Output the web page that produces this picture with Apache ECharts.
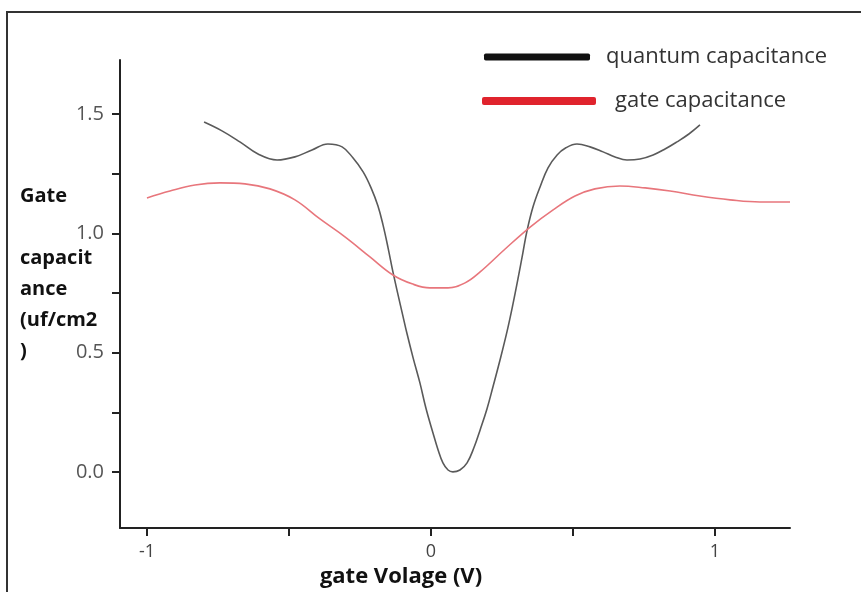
<!DOCTYPE html>
<html>
<head>
<meta charset="utf-8">
<script src="https://cdn.jsdelivr.net/npm/echarts@6/dist/echarts.min.js"></script>
<style>
  html, body { margin: 0; padding: 0; background: #fff; }
  #chart { width: 861px; height: 592px; }
</style>
</head>
<body>
<div id="chart"></div>
<script>
// quantum capacitance (black curve)
const quantumX = [-0.799, -0.736, -0.673, -0.609, -0.542, -0.479, -0.419, -0.363, -0.313, -0.275, -0.239, -0.211, -0.187, -0.169, -0.151, -0.134, -0.116, -0.099, -0.085, -0.063, -0.039, -0.018, 0.007, 0.025, 0.042, 0.060, 0.077, 0.102, 0.127, 0.151, 0.173, 0.197, 0.218, 0.243, 0.268, 0.288, 0.308, 0.323, 0.338, 0.359, 0.384, 0.412, 0.444, 0.475, 0.514, 0.560, 0.606, 0.648, 0.690, 0.736, 0.782, 0.824, 0.866, 0.908, 0.947]
const quantumY = [1.466, 1.429, 1.383, 1.332, 1.307, 1.320, 1.349, 1.374, 1.362, 1.316, 1.257, 1.190, 1.115, 1.035, 0.938, 0.838, 0.742, 0.654, 0.582, 0.478, 0.373, 0.268, 0.163, 0.092, 0.038, 0.008, 0.0, 0.008, 0.038, 0.101, 0.176, 0.264, 0.356, 0.469, 0.590, 0.700, 0.820, 0.915, 1.010, 1.110, 1.194, 1.274, 1.328, 1.358, 1.374, 1.362, 1.341, 1.320, 1.307, 1.311, 1.328, 1.353, 1.383, 1.416, 1.454]
// gate capacitance (red curve)
const gateX = [-1.0, -0.919, -0.831, -0.743, -0.655, -0.567, -0.479, -0.391, -0.303, -0.215, -0.134, -0.067, -0.004, 0.060, 0.120, 0.173, 0.261, 0.349, 0.430, 0.507, 0.577, 0.665, 0.754, 0.842, 0.947, 1.053, 1.158, 1.264]
const gateY = [1.148, 1.177, 1.202, 1.211, 1.207, 1.186, 1.140, 1.060, 0.985, 0.901, 0.825, 0.788, 0.771, 0.771, 0.792, 0.838, 0.934, 1.026, 1.098, 1.156, 1.186, 1.198, 1.190, 1.177, 1.156, 1.140, 1.131, 1.131]
// ticks
const xTicks = [-1, -0.5, 0, 0.5, 1]
const xLabels = [-1, 0, 1]
const yTicks = [0, 0.25, 0.5, 0.75, 1, 1.25, 1.5]
const yLabels = [0, 0.5, 1, 1.5]
const yTitle = 'Gate\n\ncapacit\nance\n(uf/cm2\n)'

const zip = (xs, ys) => xs.map((x, i) => [x, ys[i]])

const chart = echarts.init(document.getElementById('chart'))
chart.setOption({
    animation: false,
    grid: { left: 120, top: 60, right: 71, bottom: 64, outerBoundsMode: 'none' },
    graphic: [
        { type: 'line', shape: { x1: 6, y1: 12, x2: 861, y2: 12 }, style: { stroke: '#333', lineWidth: 2 } },
        { type: 'line', shape: { x1: 7, y1: 12, x2: 7, y2: 592 }, style: { stroke: '#333', lineWidth: 2 } },
        // y axis title, left-aligned block like the original
        {
            type: 'text', left: 20, top: 181,
            style: { text: yTitle, font: 'bold 20px "Open Sans"', fill: '#111', lineHeight: 31 }
        }
    ],
    legend: [
        {
            left: 484, top: 46, padding: 0,
            icon: 'roundRect', itemWidth: 106, itemHeight: 7,
            textStyle: { fontFamily: 'Open Sans', fontSize: 22, color: '#333', padding: [0, 0, 0, 11] },
            data: [{ name: 'quantum capacitance', itemStyle: { color: '#111' } }]
        },
        {
            left: 482, top: 90, padding: 0,
            icon: 'roundRect', itemWidth: 114, itemHeight: 8,
            textStyle: { fontFamily: 'Open Sans', fontSize: 22, color: '#333', padding: [0, 0, 0, 14] },
            data: [{ name: 'gate capacitance', itemStyle: { color: '#e0232d' } }]
        }
    ],
    xAxis: {
        type: 'value',
        min: -1.095,
        max: 1.264,
        name: 'gate Volage (V)',
        nameLocation: 'middle',
        nameGap: 34,
        nameTextStyle: { fontFamily: 'Open Sans', fontSize: 22, fontWeight: 'bold', color: '#111', padding: [0, 108, 0, 0] },
        splitLine: { show: false },
        axisLine: { onZero: false, lineStyle: { color: '#222', width: 2 } },
        axisTick: { length: 8, customValues: xTicks, lineStyle: { color: '#222', width: 2 } },
        axisLabel: { customValues: xLabels, margin: 15, fontFamily: 'Open Sans', fontSize: 18, color: '#444' }
    },
    yAxis: {
        type: 'value',
        min: -0.235,
        max: 1.726,
        splitLine: { show: false },
        axisLine: { onZero: false, lineStyle: { color: '#222', width: 2 } },
        axisTick: { length: 8, customValues: yTicks, lineStyle: { color: '#222', width: 2 } },
        axisLabel: { customValues: yLabels, margin: 16, fontFamily: 'Open Sans', fontSize: 20, color: '#555', formatter: v => v.toFixed(1) }
    },
    series: [
        {
            name: 'quantum capacitance',
            type: 'line',
            smooth: 0.4,
            showSymbol: false,
            lineStyle: { color: '#5a5a5a', width: 1.6 },
            itemStyle: { color: '#5a5a5a' },
            data: zip(quantumX, quantumY)
        },
        {
            name: 'gate capacitance',
            type: 'line',
            smooth: 0.4,
            showSymbol: false,
            lineStyle: { color: '#e8767c', width: 1.6 },
            itemStyle: { color: '#e8767c' },
            data: zip(gateX, gateY)
        }
    ]
})
</script>
</body>
</html>
